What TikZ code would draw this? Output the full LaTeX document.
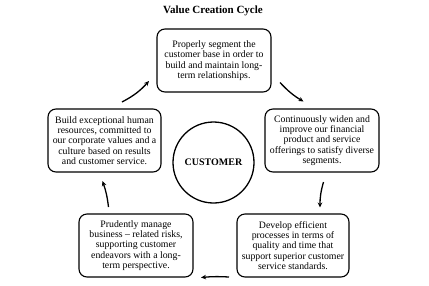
\documentclass[tikz,border=0pt]{standalone}
\usepackage{fontspec}
\setmainfont{Liberation Serif}
\usetikzlibrary{arrows.meta}
\begin{document}
\begin{tikzpicture}[x=1pt,y=-1pt,
  stepbox/.style={draw,line width=1.1pt,rounded corners=8pt,minimum width=114pt,minimum height=63pt,align=center,inner sep=1pt,font=\fontsize{9.8}{10.3}\selectfont},
  hub/.style={draw,circle,line width=1.3pt,minimum size=81pt,inner sep=0pt,font=\fontsize{10}{12}\selectfont\bfseries},
  cyc/.style={line width=1.3pt,-{Stealth[length=5pt,width=4.5pt]}}]
\useasboundingbox (0,0) rectangle (429,285);
\node[font=\fontsize{11}{13}\selectfont\bfseries] (title) at (213,11) {Value Creation Cycle};
\node[stepbox] (top) at (214,60.5) {Properly segment the\\customer base in order to\\build and maintain long-\\term relationships.};
\node[stepbox] (right) at (322,140.5) {Continuously widen and\\improve our financial\\product and service\\offerings to satisfy diverse\\segments.};
\node[stepbox,minimum width=112pt] (br) at (293,245.5) {Develop efficient\\processes in terms of\\quality and time that\\support superior customer\\service standards.};
\node[stepbox] (bl) at (136,245.5) {Prudently manage\\business -- related risks,\\supporting customer\\endeavors with a long-\\term perspective.};
\node[stepbox,minimum width=113pt] (left) at (104.5,140.5) {Build exceptional human\\resources, committed to\\our corporate values and a\\culture based on results\\and customer service.};
\node[hub] (cust) at (213.5,162.5) {CUSTOMER};
\coordinate (a1s) at (280,82.5);
\coordinate (a1e) at (303.5,101.5);
\coordinate (a2s) at (323.5,182);
\coordinate (a2e) at (320,207.5);
\coordinate (a3s) at (229,277);
\coordinate (a3e) at (201,277.5);
\coordinate (a4s) at (108.5,207);
\coordinate (a4e) at (102.5,181);
\coordinate (a5s) at (122,102);
\coordinate (a5e) at (149,81);
\draw[cyc] (a1s) to[bend right=8] (a1e);
\draw[cyc] (a2s) to[bend right=8] (a2e);
\draw[cyc] (a3s) to[bend right=4] (a3e);
\draw[cyc] (a4s) to[bend right=6] (a4e);
\draw[cyc] (a5s) to[bend right=10] (a5e);
\end{tikzpicture}
\end{document}
